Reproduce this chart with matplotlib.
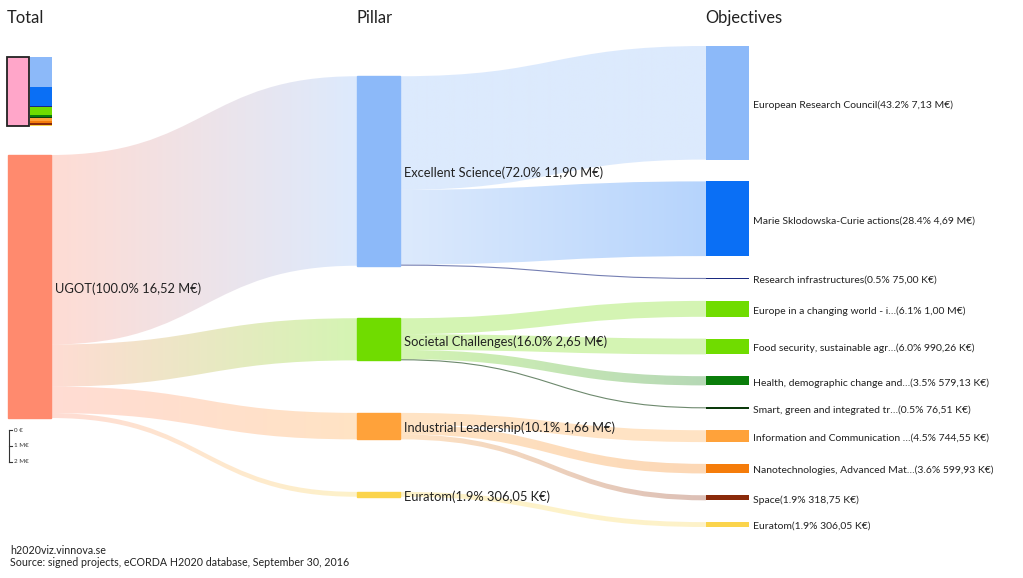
import numpy as np
import matplotlib
matplotlib.use("Agg")
import matplotlib.pyplot as plt
from matplotlib.path import Path
from matplotlib.patches import PathPatch, Rectangle
from matplotlib.colors import to_rgb

plt.rcParams['font.family'] = ['Lato', 'DejaVu Sans']

# 数据（M€）
total_name = "UGOT"
total_label = "UGOT(100.0% 16,52 M€)"
total_color = "#ff8a6e"

pillar_names = ["Excellent Science", "Societal Challenges", "Industrial Leadership", "Euratom"]
pillar_values = [11.895, 2.6459, 1.66323, 0.30605]
pillar_labels = ["Excellent Science(72.0% 11,90 M€)", "Societal Challenges(16.0% 2,65 M€)",
                 "Industrial Leadership(10.1% 1,66 M€)", "Euratom(1.9% 306,05 K€)"]
pillar_colors = ["#8cb9f9", "#70dc00", "#ffa23a", "#fbd44c"]

obj_pillar = [0, 0, 0, 1, 1, 1, 1, 2, 2, 2, 3]  # 每个目标属于哪个支柱
obj_values = [7.13, 4.69, 0.075, 1.00, 0.99026, 0.57913, 0.07651, 0.74455, 0.59993, 0.31875, 0.30605]
obj_labels = ["European Research Council(43.2% 7,13 M€)",
              "Marie Sklodowska-Curie actions(28.4% 4,69 M€)",
              "Research infrastructures(0.5% 75,00 K€)",
              "Europe in a changing world - i…(6.1% 1,00 M€)",
              "Food security, sustainable agr…(6.0% 990,26 K€)",
              "Health, demographic change and…(3.5% 579,13 K€)",
              "Smart, green and integrated tr…(0.5% 76,51 K€)",
              "Information and Communication …(4.5% 744,55 K€)",
              "Nanotechnologies, Advanced Mat…(3.6% 599,93 K€)",
              "Space(1.9% 318,75 K€)",
              "Euratom(1.9% 306,05 K€)"]
obj_colors = ["#8cb9f9", "#0a6ff5", "#1a2a80", "#70dc00", "#70dc00", "#0a7d0a",
              "#0c3a0c", "#ffa23a", "#f57c0a", "#8a2a0a", "#fbd44c"]

column_titles = ["Total", "Pillar", "Objectives"]
scale_ticks = [0, 1, 2]
scale_tick_labels = ["0 €", "1 M€", "2 M€"]

# 布局参数（像素）
W, H = 1023, 578
px_per_m = 15.93
center_y = 286.5
node_w = 43
col_x = [8, 357, 706]
col_gap = [0, 52.5, 21.8]
link_alpha = 0.3
label_dy = 2  # 文字略低于节点中心


def column_tops(values, gap):
    total = sum(values) * px_per_m + gap * (len(values) - 1)
    y = center_y - total / 2
    tops = []
    for v in values:
        tops.append(y)
        y += v * px_per_m + gap
    return tops


def draw_link(ax, x0, x1, y0, y1, w, c0, c1):
    """画一条渐变色的 sankey 连线, y0/y1 是上边缘"""
    xm = (x0 + x1) / 2
    if w < 1.5:
        # 太细的连线直接画成线
        verts = [(x0, y0 + w / 2), (xm, y0 + w / 2), (xm, y1 + w / 2), (x1, y1 + w / 2)]
        codes = [Path.MOVETO, Path.CURVE4, Path.CURVE4, Path.CURVE4]
        ax.add_patch(PathPatch(Path(verts, codes), fill=False, edgecolor=c1, lw=0.8, alpha=0.6))
        return
    verts = [(x0, y0), (xm, y0), (xm, y1), (x1, y1),
             (x1, y1 + w), (xm, y1 + w), (xm, y0 + w), (x0, y0 + w), (x0, y0)]
    codes = [Path.MOVETO, Path.CURVE4, Path.CURVE4, Path.CURVE4,
             Path.LINETO, Path.CURVE4, Path.CURVE4, Path.CURVE4, Path.CLOSEPOLY]
    patch = PathPatch(Path(verts, codes), facecolor='none', edgecolor='none')
    ax.add_patch(patch)
    t = np.linspace(0, 1, 256)[:, None]
    rgb = np.array(to_rgb(c0)) * (1 - t) + np.array(to_rgb(c1)) * t
    img = np.concatenate([rgb, np.full((256, 1), link_alpha)], axis=1)[None, :, :]
    ymin, ymax = min(y0, y1), max(y0, y1) + w
    im = ax.imshow(img, extent=[x0, x1, ymax + 1, ymin - 1], aspect='auto', interpolation='bilinear', zorder=1)
    im.set_clip_path(patch)


fig = plt.figure(figsize=(W / 100, H / 100), dpi=100)
ax = fig.add_axes([0, 0, 1, 1])
ax.set_xlim(0, W)
ax.set_ylim(H, 0)
ax.axis('off')

total_value = sum(pillar_values)
total_top = column_tops([total_value], 0)[0]
p_tops = column_tops(pillar_values, col_gap[1])
o_tops = column_tops(obj_values, col_gap[2])

# 总计 -> 支柱
y_out = total_top
for i, v in enumerate(pillar_values):
    w = v * px_per_m
    draw_link(ax, col_x[0] + node_w, col_x[1], y_out, p_tops[i], w, total_color, pillar_colors[i])
    y_out += w

# 支柱 -> 目标
p_out = list(p_tops)
for j, v in enumerate(obj_values):
    p = obj_pillar[j]
    w = v * px_per_m
    draw_link(ax, col_x[1] + node_w, col_x[2], p_out[p], o_tops[j], w, pillar_colors[p], obj_colors[j])
    p_out[p] += w

# 节点
ax.add_patch(Rectangle((col_x[0], total_top), node_w, total_value * px_per_m, color=total_color, zorder=3))
ax.text(col_x[0] + node_w + 4, total_top + total_value * px_per_m / 2 + label_dy, total_label,
        fontsize=9.3, va='center', ha='left', color='#222222', zorder=4)

for i, v in enumerate(pillar_values):
    h = v * px_per_m
    ax.add_patch(Rectangle((col_x[1], p_tops[i]), node_w, h, color=pillar_colors[i], zorder=3))
    ax.text(col_x[1] + node_w + 4, p_tops[i] + h / 2 + label_dy, pillar_labels[i],
            fontsize=9.3, va='center', ha='left', color='#222222', zorder=4)

for j, v in enumerate(obj_values):
    h = max(v * px_per_m, 1.5)
    top = o_tops[j] + v * px_per_m / 2 - h / 2
    ax.add_patch(Rectangle((col_x[2], top), node_w, h, color=obj_colors[j], zorder=3, lw=0))
    ax.text(col_x[2] + node_w + 4, o_tops[j] + v * px_per_m / 2 + label_dy, obj_labels[j],
            fontsize=7.5, va='center', ha='left', color='#222222', zorder=4)

# 列标题
for x, t in zip(col_x, column_titles):
    ax.text(x - 1, 18, t, fontsize=11.9, va='center', ha='left', color='#222222')

# 左上角的小地图
mini_top, mini_h = 57, 69
mini_scale = mini_h / total_value
ax.add_patch(Rectangle((7, mini_top), 22, mini_h, facecolor='#ffa6c9', edgecolor='#222222', lw=1.3, zorder=3))
y = mini_top
for j, v in enumerate(obj_values):
    ax.add_patch(Rectangle((30, y), 22, v * mini_scale, color=obj_colors[j], lw=0, zorder=3))
    y += v * mini_scale

# 比例尺
sy0 = 430
ax.plot([9, 9], [sy0, sy0 + scale_ticks[-1] * px_per_m], color='#333333', lw=0.8)
for t, lab in zip(scale_ticks, scale_tick_labels):
    yy = sy0 + t * px_per_m
    ax.plot([9, 12], [yy, yy], color='#333333', lw=0.8)
    ax.text(14, yy, lab, fontsize=4.5, va='center', ha='left', color='#333333')

# 脚注
ax.text(10, 550, "h2020viz.vinnova.se", fontsize=7.7, va='center', ha='left', color='#222222')
ax.text(10, 562, "Source: signed projects, eCORDA H2020 database, September 30, 2016",
        fontsize=7.7, va='center', ha='left', color='#222222')

ax.set_xlim(0, W)
ax.set_ylim(H, 0)
fig.savefig("out.png", dpi=100)
